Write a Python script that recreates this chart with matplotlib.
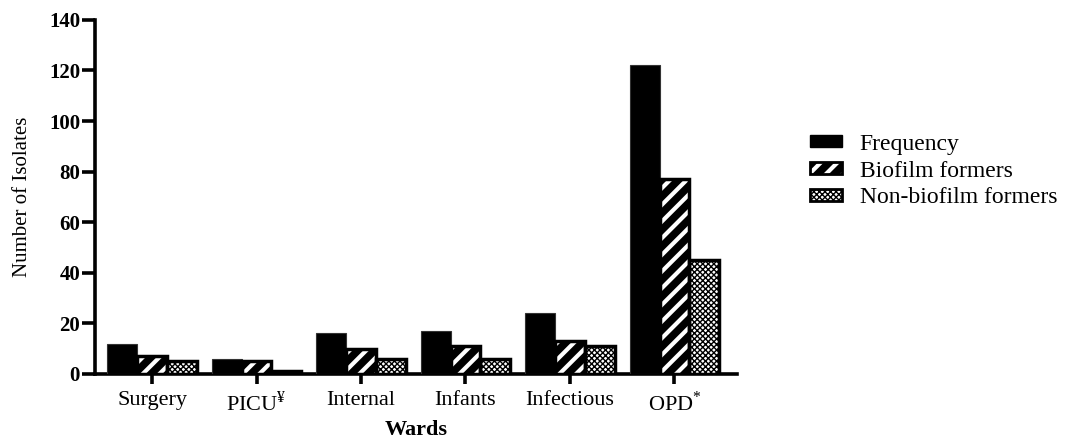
#!/usr/bin/env python3

import matplotlib
matplotlib.use("Agg")
import matplotlib.pyplot as plt
import numpy as np
from matplotlib.patches import Patch, Rectangle

wards = ['Surgery', 'PICU$^{¥}$', 'Internal', 'Infants', 'Infectious', 'OPD$^{*}$']
frequency = [12, 6, 16, 17, 24, 122]
biofilm = [7, 5, 10, 11, 13, 77]
non_biofilm = [5, 1, 6, 6, 11, 45]
series_names = ['Frequency', 'Biofilm formers', 'Non-biofilm formers']

plt.rcParams['font.family'] = ['Liberation Serif', 'DejaVu Serif']
plt.rcParams['mathtext.fontset'] = 'custom'
plt.rcParams['mathtext.rm'] = 'Liberation Serif'
plt.rcParams['hatch.linewidth'] = 3.0

FS = 16
CHECKER = 'xxxxxx'


def thin_hatch(p):
    if hasattr(p, 'set_hatch_linewidth'):
        p.set_hatch_linewidth(1.0)
    return p


fig = plt.figure(figsize=(10.76, 4.42), dpi=100)
ax = fig.add_axes([0.088, 0.154, 0.597, 0.801])

x = np.arange(len(wards))
w = 0.285

# frequency: solid black
ax.bar(x - w, frequency, w, color='black', edgecolor='#333333', linewidth=0.8, zorder=3)

# biofilm formers: white stripes on black
ax.bar(x, biofilm, w, color='black', edgecolor='white', hatch='//', linewidth=0, zorder=3)
ax.bar(x, biofilm, w, fill=False, edgecolor='black', linewidth=2.5, zorder=4)

# non-biofilm formers: fine checker
nb = ax.bar(x + w, non_biofilm, w, color='white', edgecolor='black', hatch=CHECKER, linewidth=0, zorder=3)
for p in nb:
    thin_hatch(p)
ax.bar(x + w, non_biofilm, w, fill=False, edgecolor='black', linewidth=2.5, zorder=4)

ax.set_xlim(-0.55, 5.6)
ax.set_ylim(0, 140)
ax.set_yticks(np.arange(0, 141, 20))
ax.set_xticks(x)
ax.set_xticklabels(wards, fontsize=FS)
for lab in ax.get_yticklabels():
    lab.set_fontweight('bold')
    lab.set_fontsize(15)

for s in ['top', 'right']:
    ax.spines[s].set_visible(False)
for s in ['left', 'bottom']:
    ax.spines[s].set_linewidth(2.6)
ax.tick_params(axis='both', width=2.6, direction='out')
ax.tick_params(axis='y', length=9.5, pad=1)
ax.tick_params(axis='x', length=7.5, pad=5)

ax.set_ylabel('Number of Isolates', fontsize=15, labelpad=12)
ax.set_xlabel('Wards', fontsize=16, fontweight='bold', labelpad=3)

# legend handles built from the same styles
h_freq = Patch(facecolor='black', edgecolor='black')
h_bio = (Patch(facecolor='black', edgecolor='white', hatch='//', linewidth=0),
         Patch(fill=False, edgecolor='black', linewidth=2.0))
h_non = (Patch(facecolor='white', edgecolor='black', hatch=CHECKER, linewidth=0),
         Patch(fill=False, edgecolor='black', linewidth=2.0))
leg = fig.legend([h_freq, h_bio, h_non], series_names,
                 loc='center left', bbox_to_anchor=(0.733, 0.613),
                 frameon=False, fontsize=17, handlelength=1.35, handleheight=0.42,
                 handletextpad=0.76, labelspacing=0.25)
for p in leg.findobj(Rectangle):
    if p.get_hatch() == CHECKER:
        thin_hatch(p)

fig.savefig('out.png', dpi=100)
